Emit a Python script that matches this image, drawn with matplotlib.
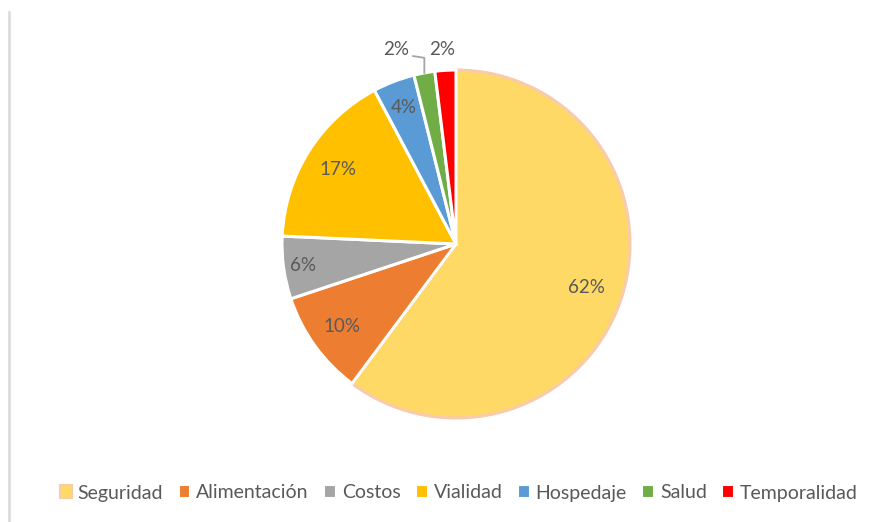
import numpy as np
import matplotlib
matplotlib.use("Agg")
import matplotlib.pyplot as plt
from matplotlib.lines import Line2D
from matplotlib.patches import Patch

categories = ["Seguridad", "Alimentación", "Costos", "Vialidad", "Hospedaje", "Salud", "Temporalidad"]
values = [62, 10, 6, 17, 4, 2, 2]
value_labels = ["62%", "10%", "6%", "17%", "4%", "2%", "2%"]
colors = ["#FFD966", "#ED7D31", "#A5A5A5", "#FFC000", "#5B9BD5", "#70AD47", "#FF0000"]

plt.rcParams['font.family'] = ['Lato', 'DejaVu Sans']
txt_color = "#595959"

fig = plt.figure(figsize=(8.88, 5.22), dpi=100)
fig.patch.set_facecolor("white")
cx, cy, r = 456, 244, 174
ax = fig.add_axes([(cx - r) / 888, (522 - cy - r) / 522, 2 * r / 888, 2 * r / 522])
ax.set_aspect('equal')

wedges, _ = ax.pie(values, colors=colors, startangle=90, counterclock=False,
                   radius=1.0, wedgeprops=dict(edgecolor="white", linewidth=2.2))
wedges[0].set_edgecolor("#F8CBAD")
wedges[0].set_zorder(1)
for w in wedges[1:]:
    w.set_zorder(2)
ax.set_xlim(-1.0, 1.0)
ax.set_ylim(-1.0, 1.0)
ax.axis('off')

fs = 13.5
inner_r = [0.79, 0.81, 0.89, 0.80, 0.84]
for i, w in enumerate(wedges):
    mid = np.deg2rad((w.theta1 + w.theta2) / 2)
    if i < 5:
        rr = inner_r[i]
        ax.text(rr * np.cos(mid), rr * np.sin(mid), value_labels[i], ha='center', va='center',
                fontsize=fs, color=txt_color, zorder=5)
    elif i == 5:
        x0, y0 = 1.0 * np.cos(mid), 1.0 * np.sin(mid)
        y1 = 1.07
        ax.plot([x0, x0, x0 - 0.065], [y0, y1, y1 + 0.01], color="#A5A5A5", lw=1.3,
                clip_on=False, zorder=5)
        ax.text(x0 - 0.085, 1.12, value_labels[i], ha='right', va='center',
                fontsize=fs, color=txt_color, zorder=5)
    else:
        ax.text(1.0 * np.cos(mid) - 0.02, 1.12, value_labels[i],
                ha='center', va='center', fontsize=fs, color=txt_color, zorder=5)

handles = []
for i, c in enumerate(categories):
    ec = "#F8CBAD" if i == 0 else "white"
    handles.append(Patch(facecolor=colors[i], edgecolor=ec, linewidth=1.5))
leg = fig.legend(handles, categories, loc='center', bbox_to_anchor=(459 / 888, 1 - 493 / 522),
                 ncol=7, frameon=False, fontsize=14, handlelength=0.6, handleheight=0.6,
                 handletextpad=0.3, columnspacing=0.8, labelcolor=txt_color)

fig.add_artist(Line2D([9 / 888, 9 / 888], [0, 1 - 12 / 522], color="#D9D9D9", lw=1.8))

fig.savefig("out.png", dpi=100, facecolor="white")
